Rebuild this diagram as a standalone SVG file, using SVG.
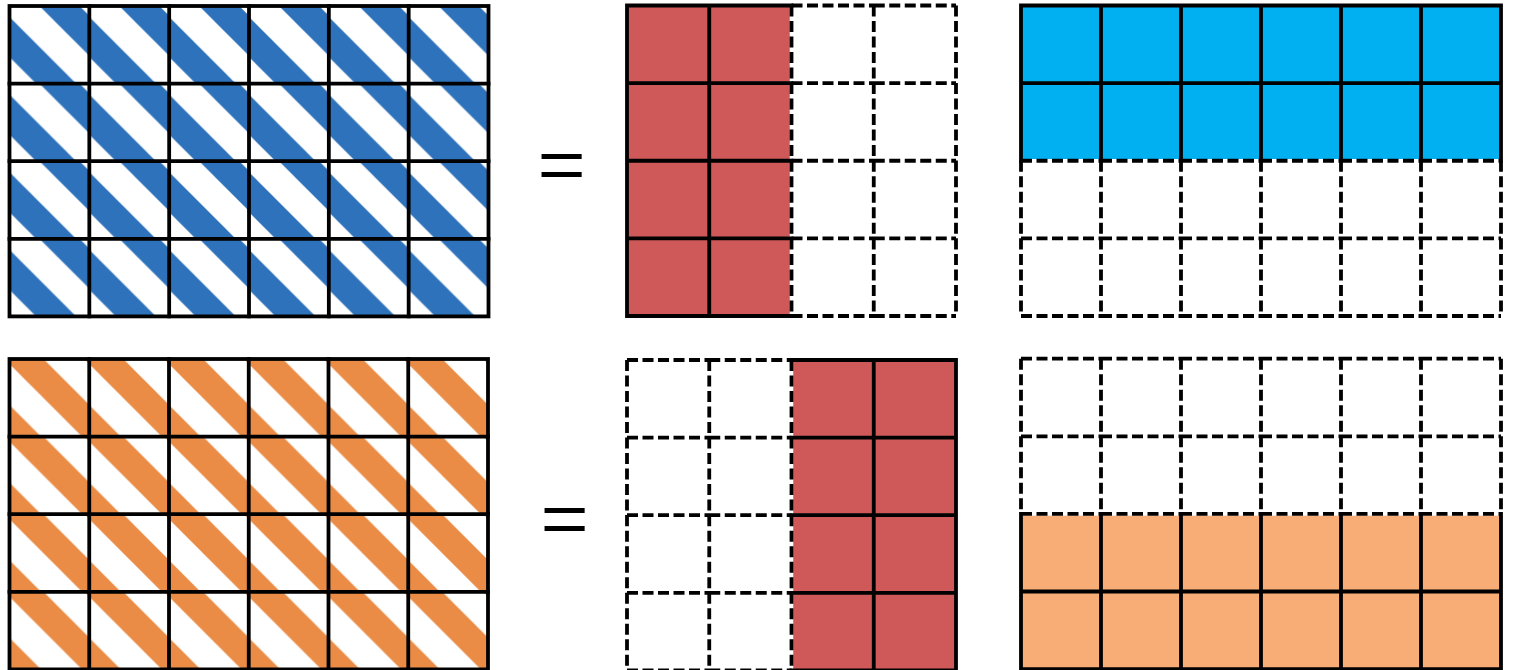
<svg xmlns="http://www.w3.org/2000/svg" width="1514" height="670" viewBox="0 0 1514 670">
<style>
.solid{fill:none;stroke:#000;stroke-width:3.8;stroke-linecap:square}
.frame{fill:none;stroke:#000;stroke-width:3.8}
.dash{fill:none;stroke:#000;stroke-width:3.8;stroke-dasharray:11 4.5;stroke-linecap:butt}
.eq{font-family:"Liberation Sans",Arial,sans-serif;font-size:70px;fill:#000;text-anchor:middle}
</style>
<defs>
<pattern id="blueStripes" patternUnits="userSpaceOnUse" x="9.5" y="6" width="79.833" height="77.6">
<rect width="79.833" height="77.6" fill="#fff"/>
<g stroke="#2E72BB" stroke-width="28.3">
<line x1="-100" y1="-69" x2="200" y2="231"/>
<line x1="-100" y1="-150" x2="200" y2="150"/>
</g>
</pattern>
<pattern id="orangeStripes" patternUnits="userSpaceOnUse" x="9.5" y="359" width="79.75" height="77.6">
<rect width="79.75" height="77.6" fill="#fff"/>
<g stroke="#EA8C46" stroke-width="27.6">
<line x1="-100" y1="-34.5" x2="200" y2="265.5"/>
<line x1="-100" y1="-114.5" x2="200" y2="185.5"/>
<line x1="-100" y1="-194.5" x2="200" y2="105.5"/>
</g>
</pattern>
</defs>
<rect width="1514" height="670" fill="#fff"/>

<g id="blue-striped-grid">
<rect x="9.5" y="6" width="479" height="310.4" fill="url(#blueStripes)"/>
<path class="solid" d="M89.33 6V316.4M169.17 6V316.4M249 6V316.4M328.83 6V316.4M408.67 6V316.4M9.5 83.6H488.5M9.5 161.2H488.5M9.5 238.8H488.5"/>
<rect class="frame" x="9.5" y="6" width="479" height="310.4"/>
</g>

<g id="orange-striped-grid">
<rect x="9.5" y="359" width="478.5" height="310.4" fill="url(#orangeStripes)"/>
<path class="solid" d="M89.25 359V669.4M169 359V669.4M248.75 359V669.4M328.5 359V669.4M408.25 359V669.4M9.5 436.6H488M9.5 514.2H488M9.5 591.8H488"/>
<rect class="frame" x="9.5" y="359" width="478.5" height="310.4"/>
</g>

<g id="equals-top"><text class="eq" transform="translate(561.5,188.7) scale(1.18,1)" x="0" y="0">=</text></g>
<g id="equals-bottom"><text class="eq" transform="translate(564.7,543) scale(1.18,1)" x="0" y="0">=</text></g>

<g id="red-left-half-grid">
<rect x="627" y="5.5" width="162.75" height="310.5" fill="#CF5858"/>
<path class="solid" d="M627 5.5H791.5M627 83.1H791.5M627 160.75H791.5M627 238.4H791.5M627 316H791.5M627 5.5V316M709.25 5.5V316"/>
<path class="dash" d="M791.5 5.5H873.75M873.75 5.5H956M791.5 83.1H873.75M873.75 83.1H956M791.5 160.75H873.75M873.75 160.75H956M791.5 238.4H873.75M873.75 238.4H956M791.5 316H873.75M873.75 316H956M791.5 5.5V83.1M791.5 83.1V160.75M791.5 160.75V238.4M791.5 238.4V316M873.75 5.5V83.1M873.75 83.1V160.75M873.75 160.75V238.4M873.75 238.4V316M956 5.5V83.1M956 83.1V160.75M956 160.75V238.4M956 238.4V316"/>
</g>

<g id="red-right-half-grid">
<rect x="793.25" y="360" width="162.75" height="310.4" fill="#CF5858"/>
<path class="solid" d="M791.5 360H956M791.5 437.6H956M791.5 515.2H956M791.5 592.8H956M791.5 670.4H956M873.75 360V670.4M956 360V670.4"/>
<path class="dash" d="M627 360H709.25M709.25 360H791.5M627 437.6H709.25M709.25 437.6H791.5M627 515.2H709.25M709.25 515.2H791.5M627 592.8H709.25M709.25 592.8H791.5M627 670.4H709.25M709.25 670.4H791.5M627 360V437.6M627 437.6V515.2M627 515.2V592.8M627 592.8V670.4M709.25 360V437.6M709.25 437.6V515.2M709.25 515.2V592.8M709.25 592.8V670.4M791.5 360V437.6M791.5 437.6V515.2M791.5 515.2V592.8M791.5 592.8V670.4"/>
</g>

<g id="blue-top-half-grid">
<rect x="1021" y="5.5" width="480" height="153.5" fill="#00B0F0"/>
<path class="solid" d="M1021 5.5H1501M1021 83.1H1501M1021 5.5V160.75M1101 5.5V160.75M1181 5.5V160.75M1261 5.5V160.75M1341 5.5V160.75M1421 5.5V160.75M1501 5.5V160.75"/>
<path class="dash" d="M1021 160.75H1101M1101 160.75H1181M1181 160.75H1261M1261 160.75H1341M1341 160.75H1421M1421 160.75H1501M1021 238.4H1101M1101 238.4H1181M1181 238.4H1261M1261 238.4H1341M1341 238.4H1421M1421 238.4H1501M1021 316H1101M1101 316H1181M1181 316H1261M1261 316H1341M1341 316H1421M1421 316H1501M1021 160.75V238.4M1021 238.4V316M1101 160.75V238.4M1101 238.4V316M1181 160.75V238.4M1181 238.4V316M1261 160.75V238.4M1261 238.4V316M1341 160.75V238.4M1341 238.4V316M1421 160.75V238.4M1421 238.4V316M1501 160.75V238.4M1501 238.4V316"/>
</g>

<g id="orange-bottom-half-grid">
<rect x="1021" y="515.65" width="480" height="153.45" fill="#F8AD76"/>
<path class="solid" d="M1021 591.5H1501M1021 669.1H1501M1021 513.9V669.1M1101 513.9V669.1M1181 513.9V669.1M1261 513.9V669.1M1341 513.9V669.1M1421 513.9V669.1M1501 513.9V669.1"/>
<path class="dash" d="M1021 358.7H1101M1101 358.7H1181M1181 358.7H1261M1261 358.7H1341M1341 358.7H1421M1421 358.7H1501M1021 436.3H1101M1101 436.3H1181M1181 436.3H1261M1261 436.3H1341M1341 436.3H1421M1421 436.3H1501M1021 513.9H1101M1101 513.9H1181M1181 513.9H1261M1261 513.9H1341M1341 513.9H1421M1421 513.9H1501M1021 358.7V436.3M1021 436.3V513.9M1101 358.7V436.3M1101 436.3V513.9M1181 358.7V436.3M1181 436.3V513.9M1261 358.7V436.3M1261 436.3V513.9M1341 358.7V436.3M1341 436.3V513.9M1421 358.7V436.3M1421 436.3V513.9M1501 358.7V436.3M1501 436.3V513.9"/>
</g>
</svg>
